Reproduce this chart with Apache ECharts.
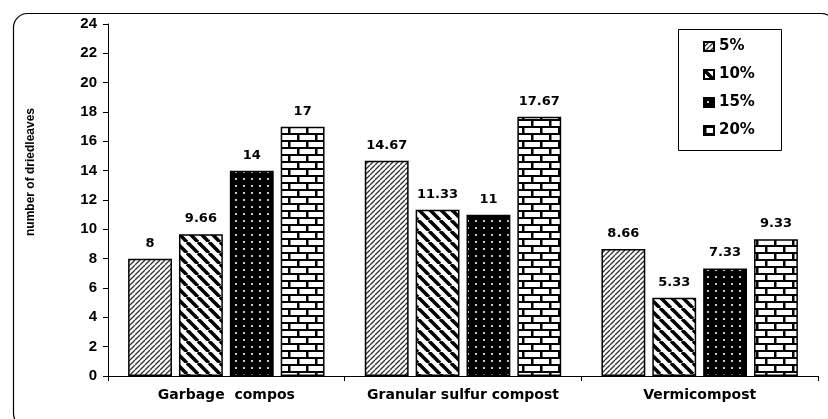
<!DOCTYPE html>
<html>
<head>
<meta charset="utf-8">
<script src="https://cdn.jsdelivr.net/npm/echarts@6/dist/echarts.min.js"></script>
<style>
  html, body { margin: 0; padding: 0; background: #fff; }
  #chart { width: 828px; height: 419px; }
</style>
</head>
<body>
<div id="chart"></div>
<script>
// data
const categories = ['Garbage  compos', 'Granular sulfur compost', 'Vermicompost']
const rate5 = [8, 14.67, 8.66]
const rate10 = [9.66, 11.33, 5.33]
const rate15 = [14, 11, 7.33]
const rate20 = [17, 17.67, 9.33]
const seriesNames = ['5%', '10%', '15%', '20%']
const yTicks = { min: 0, max: 24, interval: 2 }

// small canvas tiles used as fill patterns
const makeTile = (w, h, draw) => {
  const c = document.createElement('canvas')
  c.width = w
  c.height = h
  draw(c.getContext('2d'), w, h)
  return c
}

const hatchUp = makeTile(5, 5, (ctx, w, h) => {
  ctx.fillStyle = '#fff'
  ctx.fillRect(0, 0, w, h)
  ctx.strokeStyle = '#333'
  ctx.lineWidth = 1.3
  for (let k = -1; k <= 1; k++) {
    ctx.beginPath()
    ctx.moveTo(k * w, h)
    ctx.lineTo(k * w + w, 0)
    ctx.stroke()
  }
})

const hatchDown = makeTile(11, 11, (ctx, w, h) => {
  ctx.fillStyle = '#fff'
  ctx.fillRect(0, 0, w, h)
  ctx.strokeStyle = '#000'
  ctx.lineWidth = 3.6
  for (let k = -1; k <= 1; k++) {
    ctx.beginPath()
    ctx.moveTo(k * w, 0)
    ctx.lineTo(k * w + w, h)
    ctx.stroke()
  }
})

const dots = makeTile(8, 7, (ctx, w, h) => {
  ctx.fillStyle = '#000'
  ctx.fillRect(0, 0, w, h)
  ctx.fillStyle = '#c8c8c8'
  ctx.fillRect(3, 3, 2, 2)
})

const bricks = makeTile(18, 14, (ctx, w, h) => {
  ctx.fillStyle = '#fff'
  ctx.fillRect(0, 0, w, h)
  ctx.fillStyle = '#000'
  ctx.fillRect(0, 0, w, 2)
  ctx.fillRect(0, 7, w, 2)
  ctx.fillRect(0, 0, 2.5, 7)
  ctx.fillRect(9, 7, 2.5, 7)
})

const fills = [hatchUp, hatchDown, dots, bricks]
const values = [rate5, rate10, rate15, rate20]

const chart = echarts.init(document.getElementById('chart'))

const boldFont = 'Liberation Sans, Arial, sans-serif'
const wideFont = 'DejaVu Sans, sans-serif'

const option = {
  animation: false,
  backgroundColor: '#fff',
  grid: { left: 108, right: 10, top: 24, bottom: 43 },
  legend: {
    orient: 'vertical',
    left: 703,
    top: 39,
    padding: 0,
    itemWidth: 10,
    itemHeight: 9,
    itemGap: 13,
    icon: 'rect',
    data: seriesNames,
    textStyle: { fontFamily: wideFont, fontWeight: 'bold', fontSize: 15, color: '#000' }
  },
  xAxis: {
    type: 'category',
    data: categories,
    axisLine: { lineStyle: { color: '#000', width: 1 } },
    axisTick: { show: true, interval: 0, alignWithLabel: false, length: 5, lineStyle: { color: '#000' } },
    axisLabel: {
      interval: 0,
      hideOverlap: false,
      margin: 12,
      fontFamily: wideFont,
      fontWeight: 'bold',
      fontSize: 14,
      color: '#000'
    },
    splitLine: { show: false }
  },
  yAxis: {
    type: 'value',
    min: yTicks.min,
    max: yTicks.max,
    interval: yTicks.interval,
    axisLine: { show: true, lineStyle: { color: '#000', width: 1 } },
    axisTick: { show: true, length: 5, lineStyle: { color: '#000' } },
    axisLabel: { margin: 11, fontFamily: boldFont, fontWeight: 'bold', fontSize: 15, color: '#000' },
    splitLine: { show: false }
  },
  series: seriesNames.map((name, i) => ({
    name,
    type: 'bar',
    data: values[i],
    barGap: '16%',
    barCategoryGap: '17%',
    itemStyle: {
      color: { image: fills[i], repeat: 'repeat' },
      borderColor: '#000',
      borderWidth: 1.5
    },
    label: {
      show: true,
      position: 'top',
      distance: 9,
      fontFamily: wideFont,
      fontWeight: 'bold',
      fontSize: 13,
      color: '#000'
    }
  })),
  graphic: [
    {
      type: 'rect',
      left: 11,
      top: 11,
      shape: { width: 822, height: 414, r: 14 },
      style: { fill: 'none', stroke: '#000', lineWidth: 1.2 },
      silent: true
    },
    {
      type: 'rect',
      left: 676,
      top: 27,
      shape: { width: 103, height: 121 },
      style: { fill: 'none', stroke: '#000', lineWidth: 1 },
      silent: true
    },
    {
      type: 'text',
      x: 31,
      y: 172,
      rotation: Math.PI / 2,
      style: {
        text: 'number of driedleaves',
        fontFamily: 'Liberation Sans Narrow, Liberation Sans, Arial, sans-serif',
        fontWeight: 'bold',
        fontSize: 12,
        fill: '#000',
        align: 'center',
        verticalAlign: 'middle'
      },
      silent: true
    }
  ]
}

chart.setOption(option)
</script>
</body>
</html>
